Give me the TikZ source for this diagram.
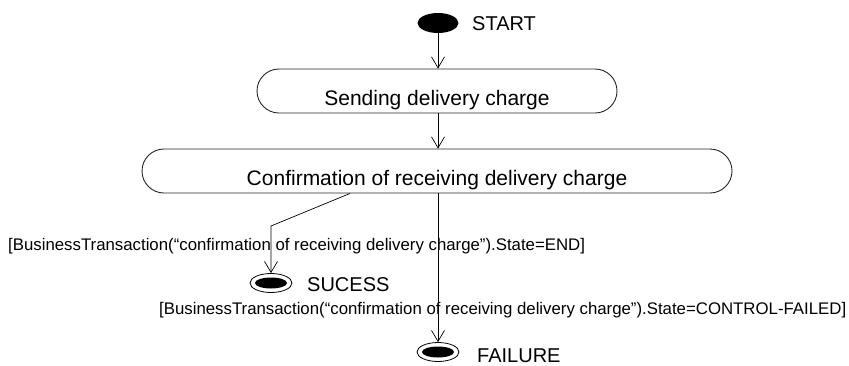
\documentclass[tikz,border=0pt]{standalone}
\usepackage{fontspec}
\setmainfont{Liberation Sans}
\usetikzlibrary{arrows.meta,shapes.geometric}
\begin{document}
\begin{tikzpicture}[x=1pt,y=-1pt,
  conn/.style={draw=black, line width=0.7pt, -{Straight Barb[length=11pt,width=13pt,line width=0.7pt]}},
  actbox/.style={draw=black!85, line width=0.9pt, rounded corners=22pt, inner sep=0pt, minimum height=44pt, text height=28pt, text depth=0pt, font=\fontsize{21}{24}\selectfont},
  initst/.style={ellipse, fill=black, inner sep=0pt, minimum width=41pt, minimum height=20pt},
  finout/.style={ellipse, draw=black, line width=0.8pt, inner sep=0pt, minimum width=42pt, minimum height=19pt},
  finin/.style={ellipse, fill=black, inner sep=0pt, minimum width=32pt, minimum height=11pt},
  stlabel/.style={anchor=base west, inner sep=0pt, font=\fontsize{20}{22}\selectfont},
  guard/.style={anchor=base west, inner sep=0pt, font=\fontsize{16.8}{20}\selectfont}]
\useasboundingbox (0,0) rectangle (849,365);

\node[initst] (start) at (438,23) {};
\node[stlabel] (startlbl) at (472,30) {START};

\node[actbox, minimum width=360pt] (box1) at (437,91) {Sending delivery charge};
\node[actbox, minimum width=590pt] (box2) at (437,171) {Confirmation of receiving delivery charge};

\node[finout] (suc) at (271,283) {};
\node[finin] (sucin) at (271,283) {};
\node[stlabel] (suclbl) at (307,291) {SUCESS};

\node[finout] (fail) at (438,352) {};
\node[finin] (failin) at (438,352) {};
\node[stlabel] (faillbl) at (477,362) {FAILURE};

\coordinate (bend) at (271,226);

\draw[conn] (start.south) -- (start.south |- box1.north);
\draw[conn] (box1.south -| start.south) -- (box2.north -| start.south);
\draw[conn] ([xshift=-87pt]box2.south) -- (bend) -- (suc.north);
\draw[conn] (box2.south -| fail.north) -- (fail.north);

\node[guard] (g1) at (8,250) {[BusinessTransaction(“confirmation of receiving delivery charge”).State=END]};
\node[guard] (g2) at (159,314) {[BusinessTransaction(“confirmation of receiving delivery charge”).State=CONTROL-FAILED]};
\end{tikzpicture}
\end{document}
